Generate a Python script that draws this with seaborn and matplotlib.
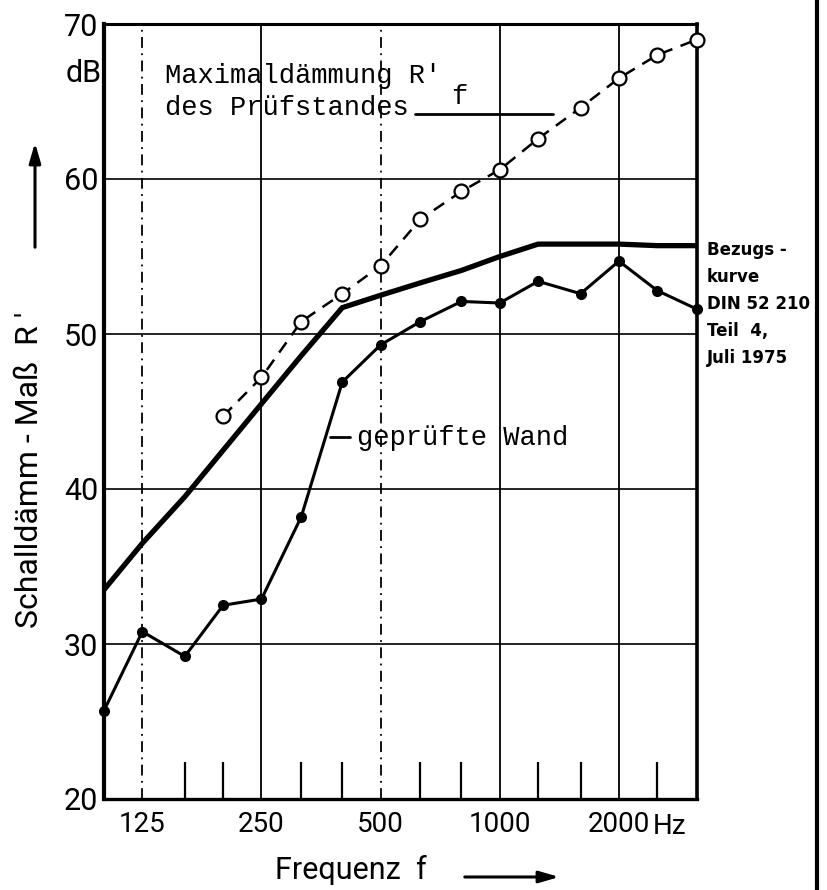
import numpy as np
import pandas as pd
import matplotlib
matplotlib.use("Agg")
import matplotlib.pyplot as plt
import seaborn as sns

# ---- data ----
freq = [100, 125, 160, 200, 250, 315, 400, 500, 630, 800, 1000, 1250, 1600, 2000, 2500, 3150]
wall_db = [25.7, 30.8, 29.2, 32.5, 32.9, 38.2, 46.9, 49.3, 50.8, 52.1, 52.0, 53.4, 52.6, 54.7, 52.8, 51.6]
max_freq = [200, 250, 315, 400, 500, 630, 800, 1000, 1250, 1600, 2000, 2500, 3150]
max_db = [44.7, 47.2, 50.8, 52.6, 54.4, 57.4, 59.2, 60.6, 62.6, 64.6, 66.5, 68.0, 69.0]
ref_db = [33.5, 36.5, 39.5, 42.5, 45.5, 48.6, 51.7, 52.5, 53.3, 54.1, 55.0, 55.8, 55.8, 55.8, 55.7, 55.7]
octave_ticks = [125, 250, 500, 1000, 2000]
octave_labels = ["125", "250", "500", "1000", "2000"]
third_ticks = [160, 200, 315, 400, 630, 800, 1250, 1600, 2500]
y_ticks = [20, 30, 40, 50, 60, 70]

sns.set_theme(style="white")
plt.rcParams['font.family'] = ['Roboto', 'DejaVu Sans']
plt.rcParams['text.color'] = 'black'

W, H = 828, 890
fig = plt.figure(figsize=(W / 100, H / 100), dpi=100)

def fx(px):
    return px / W

def fy(py):
    return 1 - py / H

ax = fig.add_axes([fx(104), fy(799), fx(697) - fx(104), fy(24) - fy(799)])
ax.set_xscale("log")
ax.set_xlim(100, 3150)
ax.set_ylim(20, 70)

# grid
for yv in [30, 40, 50, 60]:
    ax.axhline(yv, color="black", lw=1.2, zorder=1)
for xv, ls in zip(octave_ticks, [(0, (6, 3, 1, 3)), "-", (0, (6, 3, 1, 3)), "-", "-"]):
    ax.axvline(xv, color="black", lw=1.3, ls=ls, zorder=1)

wall = pd.DataFrame({"f": freq, "R": wall_db})
mx = pd.DataFrame({"f": max_freq, "R": max_db})
ref = pd.DataFrame({"f": freq, "R": ref_db})

sns.lineplot(data=ref, x="f", y="R", ax=ax, color="black", lw=3.8, zorder=3,
             solid_joinstyle="miter")
sns.lineplot(data=wall, x="f", y="R", ax=ax, color="black", lw=2.2, marker="o",
             markersize=8, markeredgewidth=0, markerfacecolor="black", zorder=4, clip_on=False)
sns.lineplot(data=mx, x="f", y="R", ax=ax, color="black", lw=1.8, marker="o",
             markersize=10, markeredgewidth=1.6, markerfacecolor="white",
             markeredgecolor="black", zorder=4, clip_on=False)
ax.lines[-1].set_linestyle((0, (5, 3.5)))

ax.set_xticks(octave_ticks)
ax.set_xticklabels(octave_labels)
ax.set_xticks(third_ticks, minor=True)
ax.set_xticklabels([], minor=True)
ax.tick_params(axis="x", which="minor", direction="in", length=27, width=1.6, color="black", bottom=True)
ax.tick_params(axis="x", which="major", length=0, pad=9, labelsize=20, labelcolor="black")
ax.set_yticks(y_ticks)
ax.set_yticklabels([str(v) for v in y_ticks])
ax.tick_params(axis="y", length=0, pad=4, labelsize=22, labelcolor="black")
ax.set_xlabel("")
ax.set_ylabel("")
for s, lw in [("left", 3.0), ("bottom", 2.4), ("top", 2.2), ("right", 2.6)]:
    ax.spines[s].set_color("black")
    ax.spines[s].set_linewidth(lw)

# annotations in plot
mono = "Liberation Mono"
fig.text(fx(165), fy(76), "Maximaldämmung R'", family=mono, fontsize=19.5, va="center", ha="left")
fig.text(fx(451), fy(97), "f", family=mono, fontsize=19.5, va="center", ha="left")
fig.text(fx(165), fy(108), "des Prüfstandes", family=mono, fontsize=19.5, va="center", ha="left")
fig.add_artist(plt.Line2D([fx(415), fx(553)], [fy(114), fy(114)], color="black", lw=2))

fig.add_artist(plt.Line2D([fx(330), fx(350)], [fy(437), fy(437)], color="black", lw=2))
fig.text(fx(357), fy(438), "geprüfte Wand", family=mono, fontsize=19.5, va="center", ha="left")

for i, t in enumerate(["Bezugs -", "kurve", "DIN 52 210", "Teil  4,", "Juli 1975"]):
    fig.text(fx(707), fy(250 + 27 * i), t, family=["DejaVu Sans"], fontsize=12,
             fontweight="bold", va="center", ha="left")

fig.text(fx(66), fy(73), "dB", fontsize=22, va="center", ha="left")
fig.text(fx(653), fy(826), "Hz", fontsize=20, va="center", ha="left")

# axis labels with arrows
fig.text(fx(30), fy(470), "Schalldämm - Maß  R '", fontsize=23, rotation=90, va="center", ha="center")
fig.add_artist(matplotlib.patches.FancyArrowPatch((fx(35), fy(250)), (fx(35), fy(140)),
               transform=fig.transFigure, arrowstyle="-|>,head_length=12,head_width=3.5",
               color="black", lw=2.2))
fig.text(fx(351), fy(870), "Frequenz  f", fontsize=22, va="center", ha="center")
fig.add_artist(matplotlib.patches.FancyArrowPatch((fx(462), fy(877)), (fx(562), fy(877)),
               transform=fig.transFigure, arrowstyle="-|>,head_length=12,head_width=3.5",
               color="black", lw=2.2))

# right border line
fig.add_artist(plt.Line2D([fx(817), fx(817)], [0, 1], color="black", lw=3))

fig.savefig("out.png", dpi=100, facecolor="white")
